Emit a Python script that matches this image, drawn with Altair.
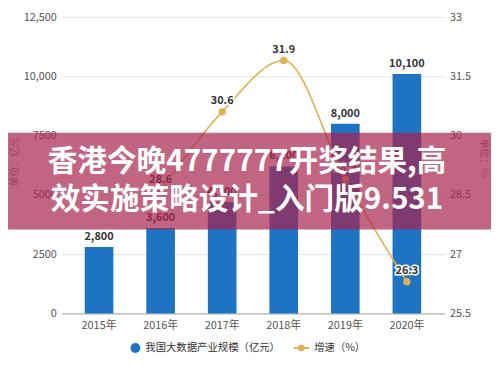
import altair as alt
import pandas as pd

# ---- data ----
years = ["2015年", "2016年", "2017年", "2018年", "2019年", "2020年"]
scale_vals = [2800, 3600, 4700, 6200, 8000, 10100]
growth_years = ["2016年", "2017年", "2018年", "2019年", "2020年"]
growth_vals = [28.6, 30.6, 31.9, 28.9, 26.3]
left_ticks = [0, 2500, 5000, 7500, 10000, 12500]
right_ticks = [25.5, 27, 28.5, 30, 31.5, 33]
bar_series = "我国大数据产业规模（亿元）"
line_series = "增速（%）"
left_title = "单位：亿元"
right_title = "单位：%"
banner_lines = ["香港今晚4777777开奖结果,高", "效实施策略设计_入门版9.531"]

FONT = "Noto Sans CJK SC"
BLUE = "#1e74c2"
GOLD = "#dcb24e"

bars_df = pd.DataFrame({"year": years, "v": scale_vals})
line_df = pd.DataFrame({"year": growth_years, "g": growth_vals})

xenc = alt.X(
    "year:N",
    sort=years,
    scale=alt.Scale(domain=years, paddingInner=0.535, paddingOuter=0.38),
    axis=alt.Axis(title=None, labelAngle=0, ticks=False, domainColor="#a8a8a8",
                  labelPadding=6, labelFont=FONT, labelFontSize=11,
                  labelColor="#555555", grid=False),
)

yleft = alt.Y(
    "v:Q",
    scale=alt.Scale(domain=[0, 12500], nice=False, zero=True),
    axis=alt.Axis(values=left_ticks, title=left_title, titleAngle=-90,
                  titleX=-47, titleY=146, titleAlign="center", titleBaseline="middle",
                  titleFont=FONT, titleFontSize=10, titleFontWeight="normal",
                  titleColor="#888888",
                  labelExpr="datum.value >= 10000 ? format(datum.value, ',') : '' + datum.value",
                  labelFont=FONT, labelFontSize=11, labelColor="#555555",
                  ticks=False, domain=False, labelPadding=5,
                  grid=True, gridColor="#e2e2e2"),
)

bars = alt.Chart(bars_df).mark_bar(color=BLUE).encode(x=xenc, y=yleft)
bar_labels = alt.Chart(bars_df).mark_text(
    dy=-10, font=FONT, fontSize=11, fontWeight="bold", color="#333333"
).encode(x=alt.X("year:N", sort=years), y="v:Q", text=alt.Text("v:Q", format=","))
left_layer = alt.layer(bars, bar_labels)

yright = alt.Y(
    "g:Q",
    scale=alt.Scale(domain=[25.5, 33], nice=False, zero=False),
    axis=alt.Axis(orient="right", values=right_ticks, title=right_title, titleAngle=90,
                  titleX=39, titleY=142, titleAlign="center", titleBaseline="middle",
                  titleFont=FONT, titleFontSize=10, titleFontWeight="normal",
                  titleColor="#888888",
                  labelExpr="'' + datum.value",
                  labelFont=FONT, labelFontSize=11, labelColor="#555555",
                  ticks=False, domain=False, labelPadding=5, grid=False),
)

line = alt.Chart(line_df).mark_line(color=GOLD, strokeWidth=1.6, interpolate="monotone").encode(
    x=alt.X("year:N", sort=years), y=yright)
pts = alt.Chart(line_df).mark_point(filled=True, size=55, color=GOLD, opacity=1).encode(
    x=alt.X("year:N", sort=years), y="g:Q")
lab_halo = alt.Chart(line_df).mark_text(
    dy=-11, font=FONT, fontSize=11, fontWeight="bold", color="white",
    stroke="white", strokeWidth=3
).encode(x=alt.X("year:N", sort=years), y="g:Q", text=alt.Text("g:Q", format=".1f"))
lab = alt.Chart(line_df).mark_text(
    dy=-11, font=FONT, fontSize=11, fontWeight="bold", color="#333333"
).encode(x=alt.X("year:N", sort=years), y="g:Q", text=alt.Text("g:Q", format=".1f"))
right_layer = alt.layer(line, pts, lab_halo, lab)

one = pd.DataFrame({"a": [0]})

overlay = alt.Chart(one).mark_rect(color="#a8244f", opacity=0.7).encode(
    x=alt.value(-62), x2=alt.value(440), y=alt.value(117), y2=alt.value(215))

banner1 = alt.Chart(pd.DataFrame({"t": [banner_lines[0]]})).mark_text(
    font=FONT, fontSize=30, fontWeight="bold", color="white", align="center", baseline="middle"
).encode(text="t:N", x=alt.value(188), y=alt.value(147))
banner2 = alt.Chart(pd.DataFrame({"t": [banner_lines[1]]})).mark_text(
    font=FONT, fontSize=30, fontWeight="bold", color="white", align="center", baseline="middle"
).encode(text="t:N", x=alt.value(188), y=alt.value(185))

LEG_Y = 335
leg_dot = alt.Chart(one).mark_point(filled=True, size=100, color=BLUE, opacity=1).encode(
    x=alt.value(75), y=alt.value(LEG_Y))
leg_t1 = alt.Chart(pd.DataFrame({"t": [bar_series]})).mark_text(
    font=FONT, fontSize=10.5, color="#333333", align="left", baseline="middle"
).encode(text="t:N", x=alt.value(85), y=alt.value(LEG_Y))
leg_rule = alt.Chart(one).mark_rule(color=GOLD, strokeWidth=2).encode(
    x=alt.value(235), x2=alt.value(251), y=alt.value(LEG_Y))
leg_pt = alt.Chart(one).mark_point(filled=True, size=45, color=GOLD, opacity=1).encode(
    x=alt.value(243), y=alt.value(LEG_Y))
leg_t2 = alt.Chart(pd.DataFrame({"t": [line_series]})).mark_text(
    font=FONT, fontSize=10.5, color="#333333", align="left", baseline="middle"
).encode(text="t:N", x=alt.value(256), y=alt.value(LEG_Y))

main = alt.layer(left_layer, right_layer).resolve_scale(y="independent")

chart = alt.layer(
    main, overlay, banner1, banner2, leg_dot, leg_t1, leg_rule, leg_pt, leg_t2
).properties(
    width=388, height=300,
    autosize=alt.AutoSizeParams(type="none"),
    padding={"left": 54, "top": 7, "right": 47, "bottom": 44},
).configure_view(stroke=None).configure_axis(labelFont=FONT)

chart.save("out.html", embed_options={"renderer": "svg", "actions": False})
